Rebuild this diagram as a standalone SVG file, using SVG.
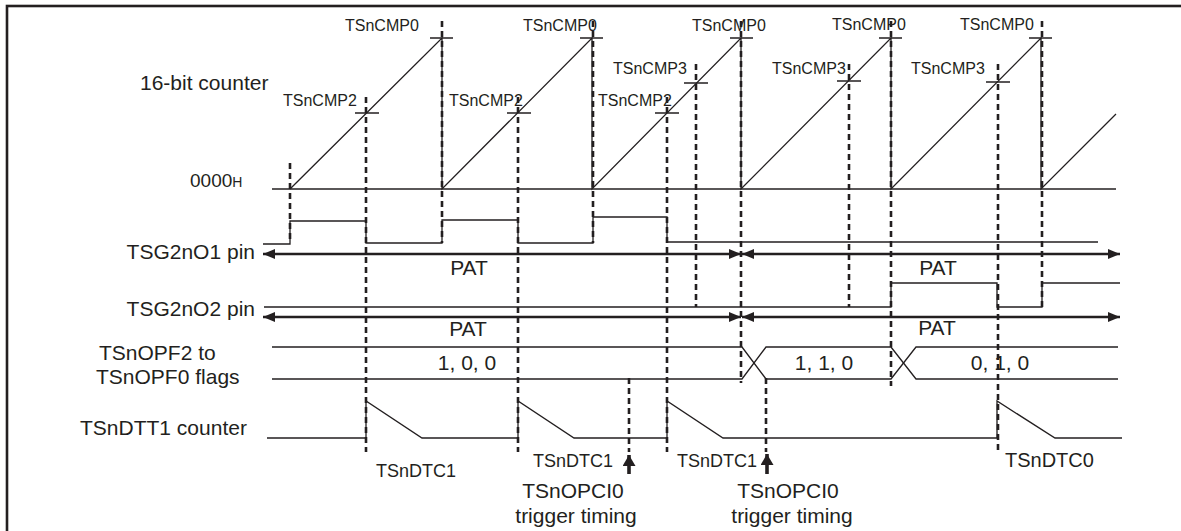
<svg xmlns="http://www.w3.org/2000/svg" width="1181" height="531" viewBox="0 0 1181 531">
<style>
.w{stroke:#231f20;stroke-width:1.3;fill:none}
.d{stroke:#231f20;stroke-width:2.6;stroke-dasharray:6 4;fill:none}
.a{stroke:#231f20;stroke-width:2.6;fill:none}
.t{stroke:#231f20;stroke-width:3.6;fill:none}
text{font-family:"Liberation Sans",Arial,sans-serif;fill:#231f20;font-size:21px}
text.s{font-size:16px}
text.f18{font-size:18px}
text.f19{font-size:19px}
text.f20{font-size:20px}
tspan.h{font-size:14px}
.m{text-anchor:middle}
.e{text-anchor:end}
</style>
<defs>
<marker id="ah" viewBox="0 0 12 10" refX="12" refY="5" markerWidth="12" markerHeight="10" orient="auto-start-reverse" markerUnits="userSpaceOnUse"><path d="M0,0 L12,5 L0,10 z" fill="#231f20"/></marker>
<marker id="up" viewBox="0 0 11 13" refX="11" refY="6.5" markerWidth="11" markerHeight="13" orient="auto" markerUnits="userSpaceOnUse"><path d="M0,0 L11,6.5 L0,13 z" fill="#231f20"/></marker>
</defs>
<rect x="7" y="6" width="1190" height="540" fill="#fff" stroke="#231f20" stroke-width="2.6"/>

<g id="row-labels">
<text x="140" y="90">16-bit counter</text>
<text class="f19" x="190" y="187">0000<tspan class="h">H</tspan></text>
<text x="255" y="259" class="e">TSG2nO1 pin</text>
<text x="255" y="316" class="e">TSG2nO2 pin</text>
<text x="99" y="360">TSnOPF2 to</text>
<text x="96" y="384">TSnOPF0 flags</text>
<text x="80" y="435">TSnDTT1 counter</text>
</g>

<g id="guides">
<path class="d" d="M290,163V243 M366,97V452 M442,21V243 M518,97V452 M593,21V243 M629,378V452 M667,97V452 M696,64V307 M741,21V383 M766,378V452 M849,64V307 M891,21V386 M998,64V452 M1042,21V307"/>
</g>

<g id="counter">
<path class="w" d="M272,189H1116"/>
<path class="w" d="M290,189L442,38L442,189L592,38L592,189L741,38L741,189L891,38L891,189L1041,38L1041,189L1116,114"/>
<path class="w" d="M430,38H453 M580,38H603 M730,38H753 M879,38H902 M1029,38H1052 M355,113H379 M507,113H531 M655,113H679 M684,83H708 M837,81H861 M986,82H1010"/>
<text class="s" x="345" y="31">TSnCMP0</text>
<text class="s" x="523" y="31">TSnCMP0</text>
<text class="s" x="692" y="31">TSnCMP0</text>
<text class="s" x="832" y="30">TSnCMP0</text>
<text class="s" x="960" y="30">TSnCMP0</text>
<text class="s" x="283" y="106">TSnCMP2</text>
<text class="s" x="449" y="106">TSnCMP2</text>
<text class="s" x="598" y="106">TSnCMP2</text>
<text class="s" x="613" y="74">TSnCMP3</text>
<text class="s" x="772" y="74">TSnCMP3</text>
<text class="s" x="911" y="74">TSnCMP3</text>
</g>

<g id="tsg2no1">
<path class="w" d="M263,244H290V221H366V243H442V220H518V243H593V217H667V242H1098"/>
<line class="a" x1="263" y1="254" x2="741" y2="254" marker-start="url(#ah)" marker-end="url(#ah)"/>
<line class="a" x1="742" y1="254" x2="1120" y2="254" marker-start="url(#ah)" marker-end="url(#ah)"/>
<text class="m" x="469" y="275">PAT</text>
<text class="m" x="938" y="275">PAT</text>
</g>

<g id="tsg2no2">
<path class="w" d="M264,307H891V283H997V307H1042V283H1120"/>
<line class="a" x1="263" y1="317" x2="741" y2="317" marker-start="url(#ah)" marker-end="url(#ah)"/>
<line class="a" x1="742" y1="317" x2="1120" y2="317" marker-start="url(#ah)" marker-end="url(#ah)"/>
<text class="m" x="468" y="336">PAT</text>
<text class="m" x="937" y="335">PAT</text>
</g>

<g id="flags">
<path class="w" d="M272,347H742L766,379H891L916,347H1118"/>
<path class="w" d="M272,379H742L766,347H891L916,379H1118"/>
<text class="m" x="467" y="370">1, 0, 0</text>
<text class="m" x="824" y="370">1, 1, 0</text>
<text class="m" x="1000" y="370">0, 1, 0</text>
</g>

<g id="dtt1">
<path class="w" d="M267,438H366V401L422,438H518V401L574,438H667V401L723,438H997V401L1055,438H1122"/>
<text class="f18" x="376" y="477">TSnDTC1</text>
<text class="f18" x="533" y="467">TSnDTC1</text>
<text class="f18" x="677" y="467">TSnDTC1</text>
<text class="f20" x="1005" y="467">TSnDTC0</text>
</g>

<g id="trigger1">
<line class="t" x1="629" y1="474" x2="629" y2="455" marker-end="url(#up)"/>
<text class="m" x="573" y="498">TSnOPCI0</text>
<text class="m" x="576" y="523">trigger timing</text>
</g>
<g id="trigger2">
<line class="t" x1="767" y1="474" x2="767" y2="454" marker-end="url(#up)"/>
<text class="m" x="788" y="498">TSnOPCI0</text>
<text class="m" x="792" y="523">trigger timing</text>
</g>
</svg>
